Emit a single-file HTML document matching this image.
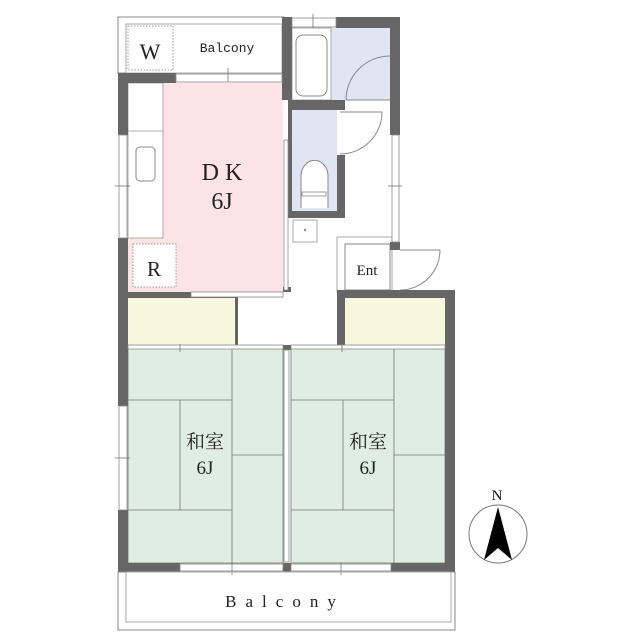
<!DOCTYPE html>
<html><head><meta charset="utf-8"><style>body{margin:0;background:#fff}svg{display:block}</style></head><body>
<svg width="640" height="640" viewBox="0 0 640 640" xmlns="http://www.w3.org/2000/svg" font-family="Liberation Serif, Noto Serif CJK SC, serif">
<rect width="640" height="640" fill="#fff"/>
<!-- top balcony -->
<rect x="118" y="17" width="166" height="56" fill="#fff" stroke="#888" stroke-width="1"/>
<rect x="126" y="24" width="156" height="49" fill="none" stroke="#aaa" stroke-width="1"/>
<rect x="128" y="26" width="45" height="44" fill="none" stroke="#999" stroke-dasharray="1.5,1.5"/>
<text x="150" y="59" font-size="22" text-anchor="middle" fill="#222">W</text>
<text x="227" y="52" font-size="13" text-anchor="middle" fill="#222" font-family="Liberation Mono, monospace">Balcony</text>
<!-- DK -->
<rect x="128" y="83" width="155" height="209" fill="#fbe3e6"/>
<rect x="128" y="83" width="35" height="155" fill="#fff" stroke="#999" stroke-width="0.8"/>
<line x1="128" y1="131" x2="163" y2="131" stroke="#999" stroke-width="0.8"/>
<rect x="136" y="147" width="19" height="34" rx="4" fill="#fff" stroke="#888"/>
<rect x="133" y="244" width="43" height="43" fill="#fff" stroke="#999" stroke-dasharray="1.5,1.5"/>
<text x="154" y="276" font-size="21" text-anchor="middle" fill="#222">R</text>
<text x="222" y="180" font-size="24" text-anchor="middle" fill="#222">D K</text>
<text x="222" y="209" font-size="24" text-anchor="middle" fill="#222">6J</text>
<!-- bath -->
<rect x="292" y="28" width="98" height="72" fill="#dfe5f2"/>
<rect x="292" y="28" width="39" height="72" fill="#fff" stroke="#999" stroke-width="0.8"/>
<rect x="296" y="35" width="31" height="61" rx="7" fill="#fff" stroke="#888"/>
<path d="M346 100 A44 44 0 0 1 390 56" fill="none" stroke="#888"/>
<line x1="346" y1="100" x2="390" y2="100" stroke="#888"/>
<!-- toilet -->
<rect x="288" y="107" width="57" height="111" fill="#666"/>
<rect x="292" y="110" width="45" height="101" fill="#dfe5f2"/>
<rect x="337" y="110" width="8" height="45" fill="#fff"/>
<path d="M301 208 L301 176 A13 15 0 0 1 328 176 L328 208" fill="#fff" stroke="#888"/>
<rect x="302" y="192" width="24" height="4" fill="#fff" stroke="#888" stroke-width="0.8"/>
<path d="M340 154 A42 42 0 0 0 382 112" fill="none" stroke="#888"/>
<line x1="340" y1="112" x2="382" y2="112" stroke="#888"/>
<rect x="293" y="220" width="24" height="22" fill="#fff" stroke="#aaa"/>
<circle cx="305" cy="230" r="1.2" fill="#888"/>
<!-- Ent -->
<rect x="337" y="237" width="55" height="55" fill="#fff" stroke="#aaa"/>
<rect x="345" y="244" width="45" height="46" fill="#fff" stroke="#888"/>
<text x="367" y="275" font-size="15" text-anchor="middle" fill="#222">Ent</text>
<path d="M400 290 A40 40 0 0 0 440 250" fill="none" stroke="#888"/>
<line x1="400" y1="250" x2="440" y2="250" stroke="#888"/>
<!-- closets -->
<rect x="128" y="298" width="107" height="47" fill="#f8f6dd"/>
<rect x="345" y="298" width="100" height="47" fill="#f8f6dd"/>
<!-- tatami -->
<g fill="#e0ede3" stroke="#777" stroke-width="0.8">
<rect x="128" y="348" width="155" height="215"/>
<rect x="291" y="348" width="154" height="215"/>
</g>
<g stroke="#777" stroke-width="0.8">
<line x1="232" y1="348" x2="232" y2="563"/><line x1="128" y1="400" x2="232" y2="400"/><line x1="232" y1="455" x2="283" y2="455"/><line x1="128" y1="510" x2="232" y2="510"/><line x1="180" y1="400" x2="180" y2="510"/>
<line x1="394" y1="348" x2="394" y2="563"/><line x1="291" y1="400" x2="394" y2="400"/><line x1="394" y1="455" x2="445" y2="455"/><line x1="291" y1="510" x2="394" y2="510"/><line x1="343" y1="400" x2="343" y2="510"/>
</g>
<text x="205" y="448" font-size="19" text-anchor="middle" fill="#222">和室</text>
<text x="205" y="474" font-size="19" text-anchor="middle" fill="#222">6J</text>
<text x="368" y="448" font-size="19" text-anchor="middle" fill="#222">和室</text>
<text x="368" y="474" font-size="19" text-anchor="middle" fill="#222">6J</text>
<!-- walls -->
<g fill="#666">
<rect x="118" y="73" width="58" height="10"/>
<rect x="118" y="73" width="10" height="62"/>
<rect x="118" y="238" width="10" height="168"/>
<rect x="118" y="510" width="10" height="62"/>
<rect x="282" y="17" width="10" height="83"/>
<rect x="336" y="17" width="64" height="11"/>
<rect x="390" y="17" width="10" height="118"/>
<rect x="390" y="242" width="10" height="8"/>
<rect x="288" y="100" width="57" height="8"/>
<rect x="283" y="287" width="8" height="5"/>
<rect x="235" y="292" width="3" height="56"/>
<rect x="337" y="290" width="118" height="8"/>
<rect x="337" y="290" width="8" height="58"/>
<rect x="445" y="290" width="10" height="282"/>
<rect x="283" y="345" width="8" height="5"/>
<rect x="283" y="563" width="8" height="9"/>
<rect x="118" y="563" width="62" height="9"/>
<rect x="391" y="563" width="64" height="9"/>
<rect x="118" y="292" width="120" height="6"/>
</g>
<!-- windows -->
<g fill="#fff" stroke="#888" stroke-width="0.8">
<rect x="176" y="74" width="106" height="8"/>
<rect x="292" y="18" width="44" height="9"/>
<rect x="119" y="135" width="8" height="103"/>
<rect x="119" y="406" width="8" height="104"/>
<rect x="392" y="135" width="7" height="107"/>
<rect x="180" y="564" width="103" height="7"/>
<rect x="291" y="564" width="100" height="7"/>
<rect x="191" y="292" width="92" height="5"/>
<rect x="128" y="345" width="155" height="4"/>
<rect x="291" y="345" width="154" height="4"/>
<rect x="284" y="140" width="4" height="150"/>
<rect x="284" y="350" width="5" height="212"/>
</g>
<g stroke="#777" stroke-width="0.8">
<line x1="228" y1="68" x2="228" y2="82"/><line x1="313" y1="14" x2="313" y2="28"/>
<line x1="115" y1="186" x2="130" y2="186"/><line x1="115" y1="458" x2="130" y2="458"/>
<line x1="388" y1="186" x2="402" y2="186"/>
<line x1="232" y1="562" x2="232" y2="575"/><line x1="341" y1="562" x2="341" y2="575"/>
<line x1="180" y1="344" x2="180" y2="352"/><line x1="342" y1="344" x2="342" y2="352"/>
</g>
<!-- bottom balcony -->
<rect x="118" y="572" width="337" height="58" fill="none" stroke="#888"/>
<rect x="126" y="572" width="325" height="50" fill="none" stroke="#aaa"/>
<text x="285" y="607" font-size="17" text-anchor="middle" fill="#222" letter-spacing="9">Balcony</text>
<!-- compass -->
<text x="497" y="500" font-size="15" text-anchor="middle" fill="#111">N</text>
<circle cx="498" cy="534" r="29" fill="#fff" stroke="#777"/>
<path d="M498 507 L484 560 L498 548 L512 560 Z" fill="#000"/>
</svg>
</body></html>
